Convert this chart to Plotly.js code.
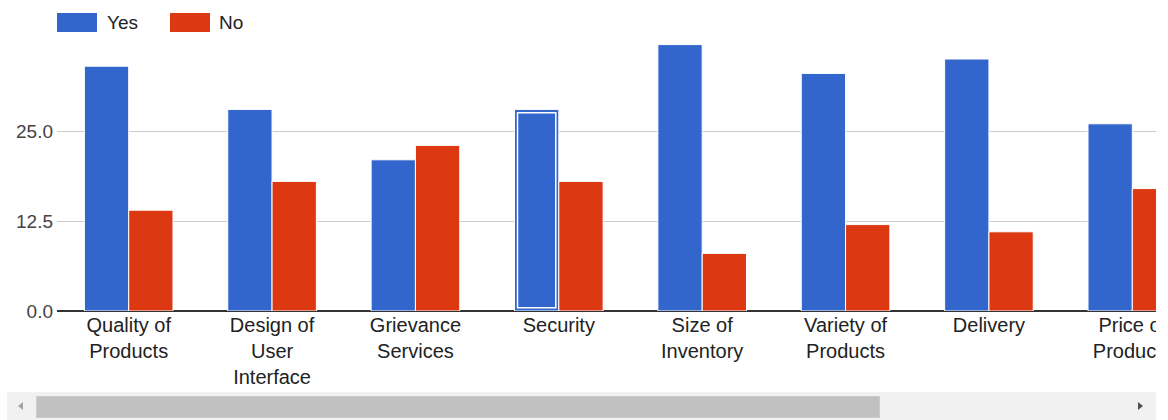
<!DOCTYPE html>
<html>
<head>
<meta charset="utf-8">
<script src="https://cdn.plot.ly/plotly-3.0.1.min.js"></script>
<style>
  html, body { margin: 0; padding: 0; background: #fff; }
  #viewport { position: absolute; left: 0; top: 0; width: 1156px; height: 392px; overflow: hidden; }
  #chart { width: 1214px; height: 392px; }
  #track { position: absolute; left: 7px; top: 392px; width: 1149px; height: 28px; background: #f1f1f1; }
  #thumb { position: absolute; left: 29px; top: 4px; width: 844px; height: 22px; background: #c1c1c1; box-sizing: border-box; border: 1px solid #cbcbcb; }
  .arrow { position: absolute; top: 10px; width: 0; height: 0; border-top: 4px solid transparent; border-bottom: 4px solid transparent; }
  #arrowLeft { left: 11px; border-right: 5px solid #a3a3a3; }
  #arrowRight { left: 1131px; border-left: 5px solid #505050; }
</style>
</head>
<body>
<div id="viewport"><div id="chart"></div></div>
<div id="track">
  <div class="arrow" id="arrowLeft"></div>
  <div id="thumb"></div>
  <div class="arrow" id="arrowRight"></div>
</div>
<script>
// Survey categories and answer counts
const categories = ['Quality of Products', 'Design of User Interface', 'Grievance Services', 'Security',
                    'Size of Inventory', 'Variety of Products', 'Delivery', 'Price of Products'];
const tickLabels = ['Quality of<br>Products', 'Design of<br>User<br>Interface', 'Grievance<br>Services', 'Security',
                    'Size of<br>Inventory', 'Variety of<br>Products', 'Delivery', 'Price of<br>Products'];
const yesValues = [34, 28, 21, 28, 37, 33, 35, 26];
const noValues  = [14, 18, 23, 18, 8, 12, 11, 17];
const yTickValues = [0, 12.5, 25, 37.5];
const yTickLabels = ['0.0', '12.5', '25.0', ''];

const BLUE = '#3366cc';
const RED = '#dc3912';
const barWidth = 0.309;
const font = 'Liberation Sans, Arial, sans-serif';

// Selected bar gets an inner white outline
const selectedIndex = 3;
const insetX = 0.021, insetY = 0.45;

const traces = [
  {
    type: 'bar', name: 'Yes', x: categories, y: yesValues,
    width: barWidth, offset: -barWidth,
    marker: { color: BLUE, line: { color: '#ffffff', width: 1 } },
    hoverinfo: 'skip', showlegend: false
  },
  {
    type: 'bar', name: 'No', x: categories, y: noValues,
    width: barWidth, offset: 0,
    marker: { color: RED, line: { color: '#ffffff', width: 1 } },
    hoverinfo: 'skip', showlegend: false
  },
  {
    type: 'bar', name: 'selection', x: [categories[selectedIndex]],
    y: [yesValues[selectedIndex] - 2 * insetY], base: insetY,
    width: barWidth - 2 * insetX, offset: -barWidth + insetX,
    marker: { color: 'rgba(0,0,0,0)', line: { color: '#ffffff', width: 1.5 } },
    hoverinfo: 'skip', showlegend: false
  }
];

// Legend swatches drawn in pixel units above the plot area
function swatch(left, color) {
  return {
    type: 'rect', xref: 'paper', yref: 'paper',
    xsizemode: 'pixel', ysizemode: 'pixel', xanchor: 0, yanchor: 1,
    x0: left, x1: left + 40, y0: 9, y1: 28,
    fillcolor: color, line: { width: 0 }
  };
}
function legendText(left, text) {
  return {
    xref: 'paper', yref: 'paper', x: 0, y: 1, xshift: left, yshift: 19,
    xanchor: 'left', yanchor: 'middle', showarrow: false, text: text,
    font: { family: font, size: 19, color: '#222222' }
  };
}

const layout = {
  width: 1214, height: 392,
  margin: { l: 57, r: 10, t: 41, b: 81 },
  paper_bgcolor: '#ffffff', plot_bgcolor: '#ffffff',
  barmode: 'overlay',
  showlegend: false,
  xaxis: {
    type: 'category', range: [-0.5, 7.5],
    tickvals: categories, ticktext: tickLabels,
    showgrid: false, zeroline: false, showline: false, ticks: '',
    tickfont: { family: font, size: 20, color: '#222222' },
    fixedrange: true
  },
  yaxis: {
    range: [0, 37.5],
    tickvals: yTickValues, ticktext: yTickLabels,
    showgrid: true, gridcolor: '#cccccc', gridwidth: 1,
    zeroline: true, zerolinecolor: '#333333', zerolinewidth: 1.5,
    showline: false, ticks: '', ticklabelstandoff: 3,
    tickfont: { family: font, size: 19, color: '#444444' },
    fixedrange: true
  },
  shapes: [swatch(0, BLUE), swatch(113, RED)],
  annotations: [legendText(48, 'Yes'), legendText(160, 'No')]
};

Plotly.newPlot('chart', traces, layout, { displayModeBar: false, staticPlot: true });
</script>
</body>
</html>
